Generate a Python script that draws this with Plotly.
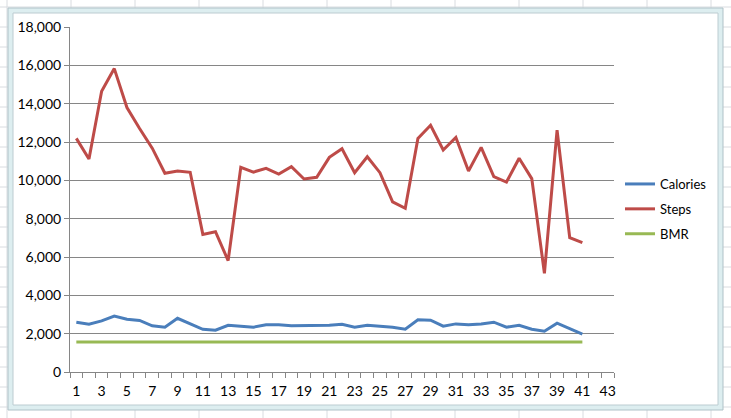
import plotly.graph_objects as go

days = list(range(1, 42))
calories = [2600, 2490, 2670, 2920, 2750, 2690, 2410, 2340, 2800, 2510,
            2230, 2180, 2440, 2390, 2340, 2460, 2460, 2410, 2410, 2440,
            2440, 2490, 2340, 2440, 2390, 2340, 2230, 2720, 2700, 2390,
            2510, 2460, 2510, 2600, 2340, 2440, 2230, 2130, 2545, 2270, 1975]
steps = [12190, 11110, 14650, 15830, 13800, 12700, 11680, 10370, 10480, 10420,
         7180, 7320, 5810, 10680, 10430, 10630, 10330, 10710, 10070, 10160,
         11200, 11650, 10400, 11230, 10400, 8880, 8540, 12190, 12870, 11580,
         12240, 10490, 11720, 10190, 9910, 11150, 10090, 5150, 12620, 7010, 6750]
bmr = [1560] * 41

y_ticks = [0, 2000, 4000, 6000, 8000, 10000, 12000, 14000, 16000, 18000]
x_ticks = list(range(1, 44, 2))

colors = {"Calories": "#4A7EBB", "Steps": "#BE4B48", "BMR": "#98B954"}

L, R, T, B = 70, 614, 27, 372
W, H = 731, 418


def px(x):
    return (x - L) / (R - L)


def py(y):
    return (B - y) / (B - T)


fig = go.Figure()
for name, vals in [("Calories", calories), ("Steps", steps), ("BMR", bmr)]:
    fig.add_trace(go.Scatter(x=days, y=vals, mode="lines", name=name,
                             legendgroup=name,
                             line=dict(color=colors[name], width=3)))

shapes = []
# spreadsheet grid in the background
for gx in range(7, W, 64):
    shapes.append(dict(type="line", xref="paper", yref="paper",
                       x0=px(gx), x1=px(gx), y0=py(0), y1=py(H),
                       line=dict(color="#D9DCE0", width=1), layer="below"))
for gy in range(7, H, 20):
    shapes.append(dict(type="line", xref="paper", yref="paper",
                       x0=px(0), x1=px(W), y0=py(gy), y1=py(gy),
                       line=dict(color="#D9DCE0", width=1), layer="below"))
# chart frame
shapes.append(dict(type="rect", xref="paper", yref="paper",
                   x0=px(8), x1=px(723), y0=py(8), y1=py(410),
                   fillcolor="#DDEEF0", line=dict(color="#AFC2C8", width=1),
                   layer="below"))
shapes.append(dict(type="rect", xref="paper", yref="paper",
                   x0=px(13), x1=px(718), y0=py(13), y1=py(405),
                   fillcolor="#FFFFFF", line=dict(color="#BCCCD1", width=1),
                   layer="below"))

font = dict(family="Lato, Open Sans, sans-serif", size=13, color="#000000")
tick_font = dict(family="Lato, Open Sans, sans-serif", size=14, color="#000000")

fig.update_layout(
    width=W, height=H,
    margin=dict(l=L, r=W - R, t=T, b=H - B),
    paper_bgcolor="#FFFFFF",
    plot_bgcolor="rgba(0,0,0,0)",
    font=font,
    shapes=shapes,
    showlegend=True,
    legend=dict(x=px(620), y=py(209), xanchor="left", yanchor="middle",
                bgcolor="rgba(0,0,0,0)", font=font,
                traceorder="grouped", tracegroupgap=5),
    xaxis=dict(range=[0.5, 43.5], tickmode="array", tickvals=x_ticks,
               ticktext=[str(v) for v in x_ticks], ticks="", showgrid=False,
               showline=True, linecolor="#868686", linewidth=1,
               zeroline=False, ticklabelstandoff=6, tickfont=tick_font,
               minor=dict(tickmode="array",
                          tickvals=[v + 0.5 for v in range(0, 44)],
                          ticks="outside", ticklen=5, tickcolor="#868686",
                          showgrid=False)),
    yaxis=dict(range=[0, 18000], tickmode="array", tickvals=y_ticks,
               ticktext=[f"{v:,}" for v in y_ticks], ticks="outside",
               ticklen=5, tickcolor="#868686", showgrid=True,
               gridcolor="#868686", gridwidth=1, showline=True,
               linecolor="#868686", linewidth=1, zeroline=False,
               tickfont=tick_font),
)

fig.write_html("out.html",
               config={"displayModeBar": False},
               post_script="document.body.style.margin='0';"
                           "document.body.style.overflow='hidden';")
